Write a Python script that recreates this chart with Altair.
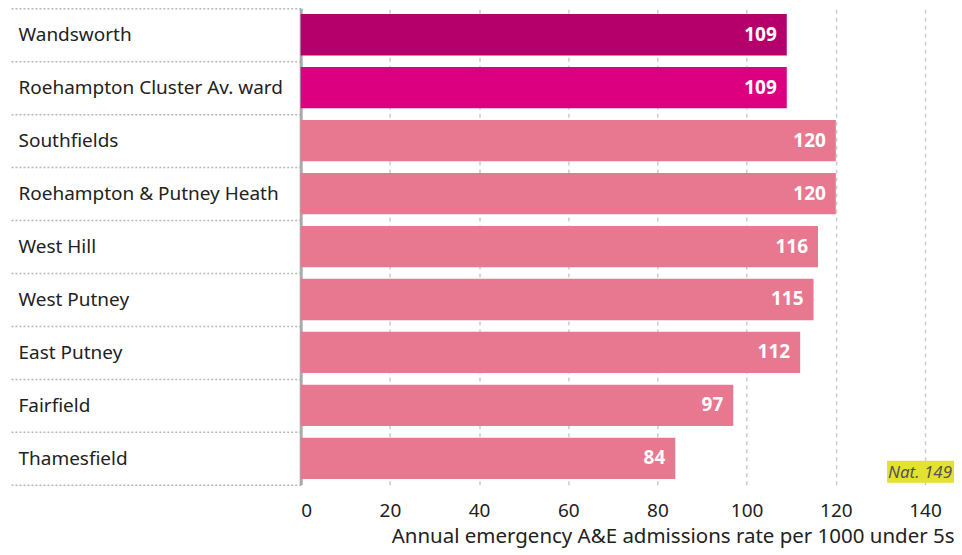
import altair as alt
import pandas as pd

names = ["Wandsworth", "Roehampton Cluster Av. ward", "Southfields",
         "Roehampton & Putney Heath", "West Hill", "West Putney",
         "East Putney", "Fairfield", "Thamesfield"]
values = [109, 109, 120, 120, 116, 115, 112, 97, 84]
groups = ["borough", "cluster", "ward", "ward", "ward", "ward", "ward", "ward", "ward"]
group_colors = ["#b5006b", "#dc0080", "#e8788f"]
group_names = ["borough", "cluster", "ward"]
x_ticks = [0, 20, 40, 60, 80, 100, 120, 140]
nat_value = 149
x_title = "Annual emergency A&E admissions rate per 1000 under 5s"

df = pd.DataFrame({"name": names, "value": values, "group": groups})

FONT = "Noto Sans"
W, H = 654, 477

y_enc = alt.Y("name:N", sort=names,
              scale=alt.Scale(paddingInner=0, paddingOuter=0),
              axis=alt.Axis(title=None, labelAlign="left", labelBaseline="middle",
                            tickBand="extent", tickSize=292, tickDash=[2, 2],
                            tickColor="#b8b8b8", tickWidth=1.5,
                            labelPadding=-9, labelLimit=400,
                            domainColor="#aaaaaa", domainWidth=3,
                            labelFontSize=19, labelColor="#222222", labelFont=FONT))

x_enc = alt.X("value:Q", scale=alt.Scale(domain=[0, 146.5], nice=False),
              axis=alt.Axis(values=x_ticks, title=x_title, grid=True,
                            gridDash=[4, 4], gridColor="#cccccc", gridWidth=1.5,
                            domain=False, ticks=False, labelPadding=17,
                            labelFontSize=19, labelColor="#222222", labelFont=FONT,
                            titleFontSize=20.5, titleFontWeight="normal",
                            titleColor="#222222", titleFont=FONT,
                            titleAnchor="end", titlePadding=6))

bars = alt.Chart(df).mark_bar(height=alt.RelativeBandSize(0.78)).encode(
    x=x_enc, y=y_enc,
    color=alt.Color("group:N", scale=alt.Scale(domain=group_names, range=group_colors), legend=None),
)

labels = alt.Chart(df).mark_text(align="right", baseline="middle", dx=-10,
                                 color="white", fontWeight="bold", fontSize=19,
                                 font="Open Sans").encode(
    x="value:Q", y=alt.Y("name:N", sort=names), text="value:Q")

nat_df = pd.DataFrame({"label": [f"Nat. {nat_value}"]})
nat_box = alt.Chart(nat_df).mark_rect(color="#e3e22e").encode(
    x=alt.value(587), x2=alt.value(654), y=alt.value(453), y2=alt.value(475))
nat_text = alt.Chart(nat_df).mark_text(align="right", baseline="middle", fontStyle="italic",
                                       fontSize=17, color="#555555", font=FONT).encode(
    x=alt.value(652), y=alt.value(465), text="label:N")

chart = alt.layer(bars, labels, nat_box, nat_text).properties(
    width=W, height=H, padding={"top": -9, "left": 0, "right": 0, "bottom": 0}
).configure_view(stroke=None)

chart.save("out.html", embed_options={"renderer": "svg", "actions": False})
